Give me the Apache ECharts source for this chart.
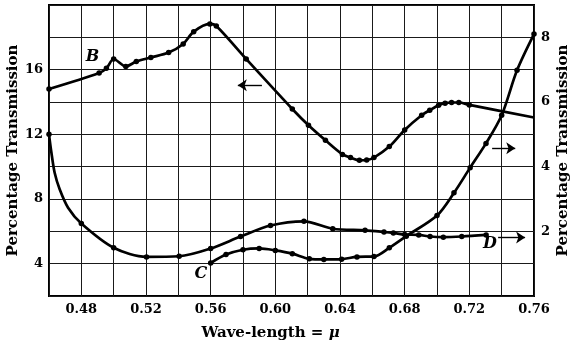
<!DOCTYPE html>
<html><head><meta charset="utf-8">
<script src="https://cdn.jsdelivr.net/npm/echarts@6/dist/echarts.min.js"></script>
<style>html,body{margin:0;padding:0;background:#fff}#c{width:570px;height:347px}</style>
</head><body><div id="c"></div>
<script>
// Curve B (left axis)
const bX = [0.46,0.491,0.4955,0.50,0.5075,0.514,0.523,0.534,0.543,0.5495,0.5595,0.5635,0.582,0.6105,0.6205,0.631,0.6415,0.6465,0.652,0.6565,0.661,0.6705,0.680,0.6905,0.6955,0.701,0.705,0.709,0.7135,0.720,0.76];
const bY = [14.8,15.79,16.08,16.66,16.2,16.5,16.75,17.06,17.59,18.35,18.83,18.7,16.66,13.57,12.56,11.63,10.76,10.56,10.39,10.41,10.56,11.24,12.27,13.18,13.49,13.8,13.93,13.97,13.97,13.82,13.04];
const bDot = [1,1,1,1,1,1,1,1,1,1,1,1,1,1,1,1,1,1,1,1,1,1,1,1,1,1,1,1,1,1,0];
// Curve C (right axis)
const cX = [0.56,0.5695,0.580,0.590,0.600,0.6105,0.621,0.630,0.641,0.6505,0.661,0.6705,0.681,0.700,0.7105,0.7205,0.7303,0.740,0.7495,0.76];
const cY = [1.02,1.28,1.43,1.47,1.41,1.31,1.15,1.13,1.14,1.21,1.22,1.49,1.85,2.49,3.19,3.97,4.72,5.59,6.98,8.1];
const cDot = [1,1,1,1,1,1,1,1,1,1,1,1,1,1,1,1,1,1,1,1];
// Curve D (right axis)
const dX = [0.46,0.4615,0.4635,0.4666,0.4718,0.48,0.50,0.5203,0.5405,0.56,0.5785,0.597,0.6177,0.6355,0.6555,0.6672,0.673,0.680,0.6887,0.6957,0.7039,0.7153,0.7304];
const dY = [5.0,4.43,3.81,3.3,2.73,2.24,1.49,1.21,1.23,1.47,1.84,2.18,2.31,2.08,2.03,1.98,1.95,1.9,1.89,1.84,1.82,1.84,1.89];
const dDot = [1,0,0,0,0,1,1,1,1,1,1,1,1,1,1,1,1,1,1,1,1,1,1];

const xTicks = [0.48,0.52,0.56,0.60,0.64,0.68,0.72,0.76];
const leftTicks = [4,8,12,16];
const rightTicks = [2,4,6,8];

const SERIF = '"DejaVu Serif", "Liberation Serif", serif';
function build(xs, ys, dots){
  return xs.map((x,i)=>({value:[x,ys[i]], symbol: dots[i] ? 'circle' : 'none'}));
}
function pick(list, v, fmt){
  const t = list.find(a => Math.abs(a - v) < 1e-6);
  return t === undefined ? '' : fmt(t);
}
const lineBase = {
  type:'line', smooth:0.3, showSymbol:true, showAllSymbol:true,
  symbolSize:5.5, itemStyle:{color:'#000'}, lineStyle:{color:'#000', width:2.7}, z:5, animation:false
};
const arrowLine = {symbol:['none','arrow'], symbolSize:9, silent:true, animation:false,
  lineStyle:{color:'#000', width:1.4, type:'solid'}, label:{show:false}, emphasis:{disabled:true}};
const annoText = {fontFamily:SERIF, fontStyle:'italic', fontWeight:'bold', fontSize:16, color:'#000'};

const chart = echarts.init(document.getElementById('c'), null, {renderer:'canvas'});
chart.setOption({
  backgroundColor:'#fff',
  animation:false,
  grid:{left:49, right:36, top:5, bottom:51, outerBoundsMode:'none', containLabel:false,
    show:true, borderColor:'#000', borderWidth:2, backgroundColor:'transparent'},
  xAxis:{type:'value', min:0.46, max:0.76, interval:0.02,
    name:'Wave-length = {mu|μ}', nameLocation:'middle', nameGap:30, nameMoveOverlap:false,
    nameTextStyle:{fontFamily:SERIF, fontWeight:'bold', fontSize:15, color:'#000', padding:[0,42,0,0],
      rich:{mu:{fontFamily:SERIF, fontStyle:'italic', fontWeight:'bold', fontSize:15, color:'#000'}}},
    axisLine:{show:false}, axisTick:{show:false},
    axisLabel:{fontFamily:SERIF, fontWeight:'bold', fontSize:13, color:'#000', margin:7,
      formatter:v=>pick(xTicks, v, t=>t.toFixed(2))},
    splitLine:{show:true, lineStyle:{color:'#1a1a1a', width:1}}},
  yAxis:[
    {type:'value', min:2, max:20, interval:2, position:'left',
      name:'Percentage Transmission', nameLocation:'middle', nameGap:28, nameRotate:90, nameMoveOverlap:false,
      nameTextStyle:{fontFamily:SERIF, fontWeight:'bold', fontSize:15, color:'#000'},
      axisLine:{show:false}, axisTick:{show:false},
      axisLabel:{fontFamily:SERIF, fontWeight:'bold', fontSize:13, color:'#000', margin:6,
        formatter:v=>pick(leftTicks, v, t=>String(t))},
      splitLine:{show:true, lineStyle:{color:'#1a1a1a', width:1}}},
    {type:'value', min:0, max:9, interval:1, position:'right',
      name:'Percentage Transmission', nameLocation:'middle', nameGap:22, nameRotate:90, nameMoveOverlap:false,
      nameTextStyle:{fontFamily:SERIF, fontWeight:'bold', fontSize:15, color:'#000'},
      axisLine:{show:false}, axisTick:{show:false},
      axisLabel:{fontFamily:SERIF, fontWeight:'bold', fontSize:13, color:'#000', margin:7, padding:[0,0,6,0],
        formatter:v=>pick(rightTicks, v, t=>String(t))},
      splitLine:{show:false}}
  ],
  series:[
    Object.assign({}, lineBase, {name:'B', yAxisIndex:0, data:build(bX,bY,bDot),
      markPoint:{symbol:'circle', symbolSize:1, itemStyle:{color:'transparent'}, animation:false,
        label:Object.assign({show:true, formatter:'B'}, annoText),
        data:[{coord:[0.4869,16.78]}]},
      markLine:Object.assign({}, arrowLine, {data:[[{coord:[0.5917,15.04]},{coord:[0.5768,15.04]}]]})}),
    Object.assign({}, lineBase, {name:'C', yAxisIndex:1, data:build(cX,cY,cDot),
      markPoint:{symbol:'circle', symbolSize:1, itemStyle:{color:'transparent'}, animation:false,
        label:Object.assign({show:true, formatter:'C'}, annoText),
        data:[{coord:[0.554,0.69]}]},
      markLine:Object.assign({}, arrowLine, {data:[[{coord:[0.7341,4.57]},{coord:[0.7484,4.57]}]]})}),
    Object.assign({}, lineBase, {name:'D', yAxisIndex:1, data:build(dX,dY,dDot),
      markPoint:{symbol:'circle', symbolSize:1, itemStyle:{color:'transparent'}, animation:false,
        label:Object.assign({show:true, formatter:'D'}, annoText),
        data:[{coord:[0.7328,1.62]}]},
      markLine:Object.assign({}, arrowLine, {data:[[{coord:[0.7378,1.81]},{coord:[0.7545,1.81]}]]})})
  ]
});
</script></body></html>
